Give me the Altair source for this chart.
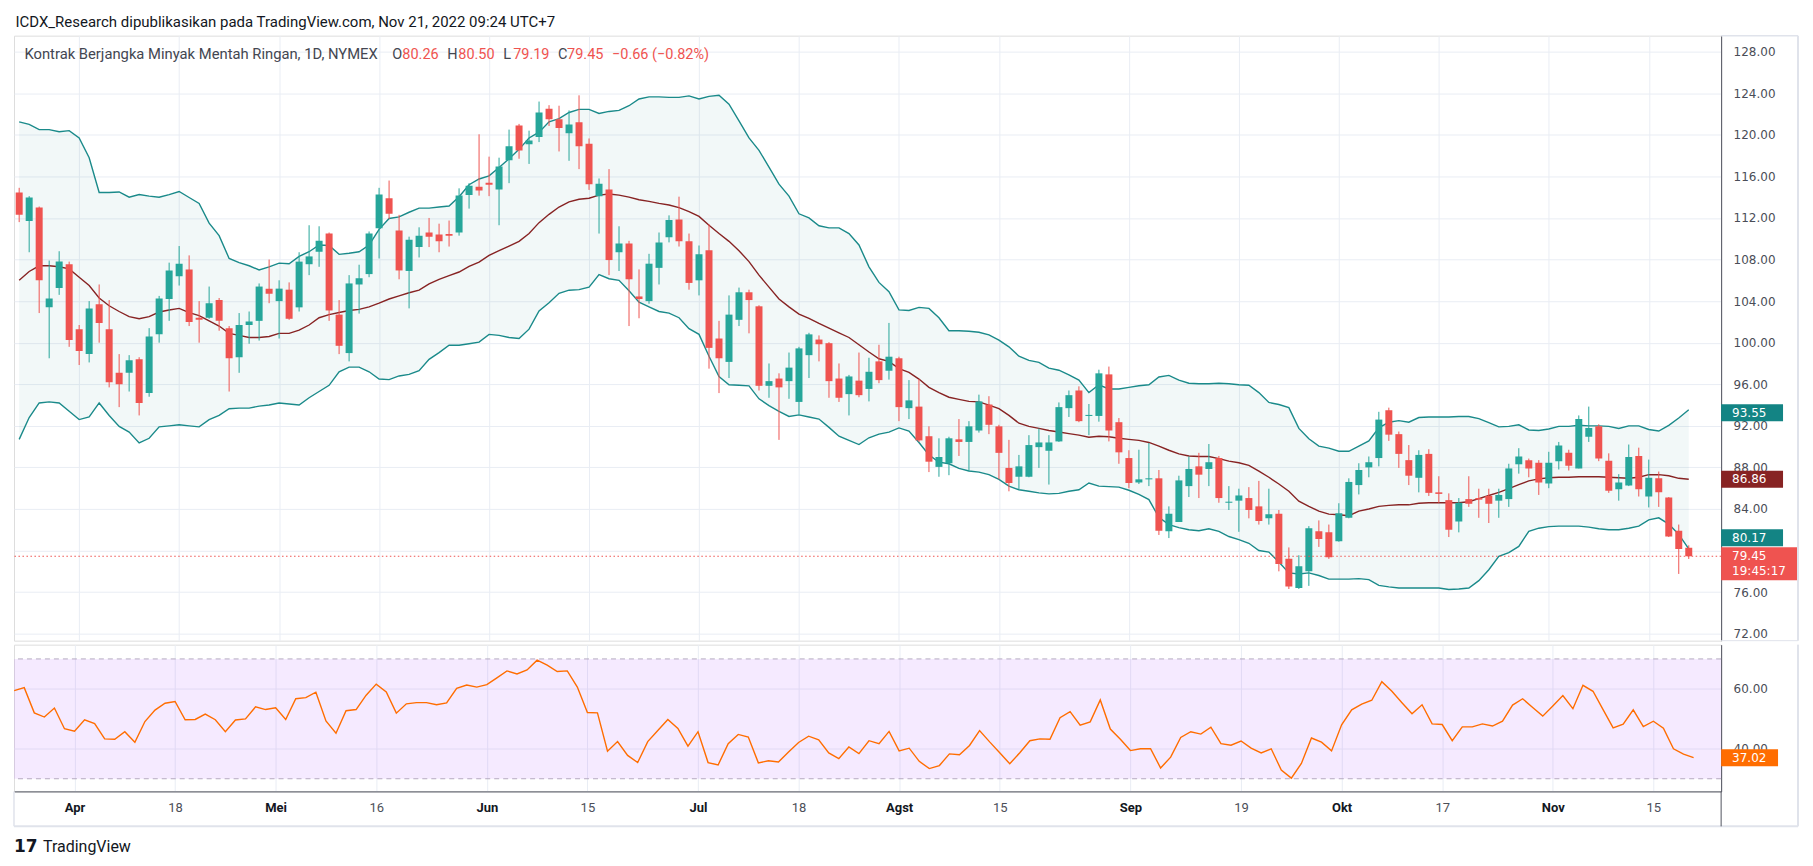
import altair as alt
import pandas as pd

# ---------------- data ----------------
open_ = [114.45, 111.7, 113.0, 103.4, 105.25, 107.55, 101.3, 98.9, 103.7, 101.3,
         97.1, 97.1, 98.4, 95.15, 100.8, 104.2, 106.4, 107.05, 102.4, 102.4,
         104.1, 101.4, 98.6, 101.7, 102.1, 105.2, 104.0, 105.1, 103.4, 107.55,
         108.75, 110.5, 102.7, 99.0, 105.6, 106.6, 111.0, 113.9, 110.8, 106.9,
         109.2, 110.6, 110.4, 110.45, 110.6, 114.2, 115.0, 115.4, 114.75, 117.55,
         120.9, 119.1, 119.8, 122.5, 121.5, 120.15, 121.2, 119.15, 114.1, 114.75,
         108.7, 109.55, 104.45, 104.0, 107.2, 110.15, 111.85, 109.75, 106.0, 108.9,
         100.4, 98.15, 102.2, 104.85, 103.5, 95.85, 96.55, 96.3, 94.3, 98.8,
         100.3, 99.95, 96.55, 95.05, 96.35, 95.55, 98.2, 97.3, 98.5, 93.7,
         93.85, 91.0, 88.05, 88.4, 90.7, 90.45, 91.55, 94.05, 91.95, 87.95,
         87.1, 87.1, 89.95, 89.6, 90.5, 93.7, 95.4, 92.95, 92.95, 96.95,
         92.35, 88.9, 86.55, 86.85, 86.95, 81.85, 82.75, 86.2, 88.1, 87.85,
         88.9, 84.6, 84.8, 85.05, 84.25, 83.1, 83.55, 79.2, 76.4, 78.0,
         81.85, 81.75, 80.9, 83.15, 86.3, 88.0, 88.9, 93.5, 91.2, 88.7,
         87.0, 89.3, 85.6, 84.85, 82.8, 84.95, 85.05, 85.25, 84.8, 84.95,
         88.3, 88.7, 88.45, 86.45, 88.6, 89.4, 87.9, 90.95, 91.95, 88.65,
         85.9, 86.25, 89.1, 85.2, 86.95, 85.1, 81.9, 80.26]
high = [114.9, 114.1, 113.1, 107.9, 108.8, 107.8, 101.7, 104.0, 105.6, 104.1,
        98.9, 98.8, 98.6, 101.4, 104.5, 107.7, 109.3, 108.4, 104.0, 105.4,
        104.3, 101.6, 102.85, 103.0, 105.7, 108.0, 106.0, 105.8, 108.7, 111.3,
        111.2, 110.6, 104.1, 106.5, 107.5, 110.7, 114.9, 115.6, 112.3, 110.2,
        111.1, 112.0, 111.45, 111.75, 114.85, 115.35, 120.05, 117.9, 117.8, 120.5,
        121.05, 120.4, 123.2, 122.85, 122.8, 122.35, 123.8, 119.65, 115.8, 116.7,
        111.2, 109.8, 107.05, 108.55, 110.6, 112.25, 114.05, 110.5, 109.35, 111.4,
        102.1, 104.55, 105.3, 105.1, 103.6, 98.0, 97.05, 99.05, 99.6, 100.95,
        100.7, 100.05, 98.0, 96.9, 99.05, 98.55, 99.8, 101.9, 98.65, 96.4,
        96.5, 91.95, 90.8, 90.95, 92.65, 92.45, 95.0, 94.85, 92.1, 90.65,
        89.2, 91.1, 91.75, 91.1, 94.25, 95.4, 95.8, 94.1, 97.4, 97.7,
        92.75, 89.65, 89.7, 90.35, 87.75, 84.25, 87.2, 89.05, 89.4, 90.25,
        89.1, 86.2, 85.95, 86.1, 86.7, 85.95, 83.9, 80.3, 79.55, 82.35,
        82.9, 82.5, 84.55, 86.95, 88.4, 89.05, 93.35, 93.75, 91.45, 90.15,
        89.65, 89.75, 87.15, 85.5, 85.05, 87.15, 85.95, 85.95, 85.95, 88.35,
        89.85, 88.85, 88.7, 89.5, 90.45, 89.7, 93.0, 93.85, 92.15, 89.35,
        87.35, 90.2, 89.9, 88.75, 87.6, 85.15, 82.5, 80.50]
low = [111.6, 108.7, 102.85, 98.5, 104.6, 99.6, 97.85, 98.1, 100.0, 95.7,
       93.8, 95.3, 93.0, 94.8, 100.0, 102.1, 105.5, 101.6, 100.0, 102.3,
       101.15, 95.3, 97.1, 99.9, 100.2, 103.8, 100.4, 102.2, 103.0, 106.5,
       107.3, 102.1, 98.9, 98.2, 102.8, 106.3, 108.1, 111.9, 106.1, 103.3,
       108.2, 109.2, 108.7, 109.25, 110.3, 112.9, 114.15, 114.1, 111.3, 115.35,
       117.7, 117.2, 119.3, 120.85, 118.4, 117.5, 116.7, 114.7, 110.5, 106.5,
       106.9, 101.6, 102.35, 103.75, 105.6, 109.65, 109.25, 105.1, 104.55, 97.5,
       95.15, 96.6, 101.6, 100.9, 95.4, 94.7, 90.65, 94.6, 93.1, 96.6,
       98.2, 94.7, 94.3, 93.0, 94.75, 94.35, 96.1, 96.45, 92.45, 92.65,
       90.45, 87.55, 87.1, 87.25, 89.1, 87.65, 91.35, 91.2, 86.85, 85.7,
       85.9, 87.05, 87.95, 86.35, 90.45, 92.85, 92.35, 91.1, 92.4, 90.5,
       88.35, 86.0, 86.4, 86.2, 81.5, 81.2, 82.75, 85.15, 85.05, 86.2,
       84.6, 83.9, 81.8, 83.1, 82.5, 82.5, 78.0, 76.3, 76.3, 76.6,
       80.35, 79.2, 80.85, 83.1, 85.4, 87.05, 88.1, 90.55, 87.95, 86.3,
       85.6, 85.25, 84.6, 81.3, 81.75, 84.2, 83.15, 82.65, 83.15, 84.2,
       87.4, 87.05, 85.35, 86.0, 87.8, 87.7, 87.9, 90.45, 88.6, 85.55,
       84.8, 86.2, 85.2, 84.15, 84.2, 81.3, 77.75, 79.19]
close = [112.3, 113.97, 106.0, 104.26, 107.8, 100.25, 99.2, 103.3, 101.9, 96.2,
         96.0, 98.3, 94.2, 100.6, 104.25, 106.95, 107.6, 102.0, 102.2, 103.8,
         102.1, 98.5, 101.7, 102.05, 105.4, 104.7, 105.2, 102.3, 107.8, 108.3,
         109.8, 103.1, 99.7, 105.7, 106.2, 110.5, 114.25, 112.4, 106.95, 109.9,
         110.3, 110.2, 109.75, 110.3, 114.15, 115.1, 114.65, 115.2, 116.95, 118.9,
         118.5, 119.45, 122.15, 121.5, 120.65, 121.0, 118.9, 115.25, 115.3, 107.95,
         109.55, 106.1, 104.2, 107.6, 109.65, 111.8, 109.75, 105.75, 108.5, 99.5,
         98.5, 102.7, 104.85, 104.1, 95.85, 96.3, 95.7, 97.6, 99.45, 100.8,
         99.85, 96.3, 94.7, 96.75, 94.95, 97.2, 96.4, 98.65, 93.8, 94.45,
         90.6, 88.55, 89.0, 90.8, 90.45, 91.95, 94.35, 92.1, 89.4, 86.5,
         88.1, 90.15, 90.4, 90.4, 93.8, 94.95, 92.45, 93.05, 97.05, 91.55,
         89.45, 86.5, 86.85, 86.95, 81.9, 83.55, 86.75, 87.85, 87.3, 88.5,
         85.05, 84.7, 85.3, 83.9, 82.85, 83.5, 78.7, 76.55, 78.5, 82.15,
         81.1, 79.35, 83.6, 86.6, 87.75, 88.5, 92.6, 91.15, 89.3, 87.2,
         89.2, 85.55, 85.45, 82.0, 84.6, 84.5, 84.9, 84.5, 85.35, 87.9,
         89.05, 87.9, 86.55, 88.45, 90.1, 88.15, 92.65, 91.8, 88.85, 85.75,
         86.55, 89.0, 85.9, 87.0, 85.6, 81.35, 80.15, 79.45]

bb_upper = [121.25, 121.0, 120.5, 120.5, 120.3, 120.4, 119.7, 117.8, 114.45, 114.45,
            114.5, 114.0, 114.25, 114.1, 114.0, 114.25, 114.55, 113.97, 113.4, 111.5,
            110.3, 108.1, 107.7, 107.4, 107.0, 107.3, 107.65, 107.6, 108.3, 108.75,
            109.4, 109.35, 108.5, 108.6, 108.75, 109.4, 110.9, 111.95, 112.1, 112.55,
            112.95, 112.95, 113.05, 113.15, 114.05, 115.2, 115.75, 116.05, 116.85, 117.7,
            118.6, 119.7, 120.25, 121.25, 121.55, 122.15, 122.45, 122.45, 122.05, 122.25,
            122.35, 122.8, 123.45, 123.65, 123.65, 123.6, 123.6, 123.75, 123.45, 123.7,
            123.8, 122.95, 121.35, 119.7, 118.5, 116.9, 115.25, 114.1, 112.4, 112.0,
            111.25, 111.05, 111.05, 110.5, 109.4, 107.3, 105.8, 104.9, 103.15, 103.1,
            103.4, 103.3, 102.4, 101.15, 101.15, 101.1, 101.0, 100.75, 100.25, 99.6,
            98.7, 98.3, 98.1, 97.55, 97.35, 96.9, 96.4, 95.2, 95.95, 95.55,
            95.55, 95.7, 95.85, 95.95, 96.7, 96.85, 96.4, 96.1, 96.05, 96.05,
            96.1, 96.05, 95.95, 95.9, 95.2, 94.25, 94.05, 93.75, 91.75, 90.75,
            90.05, 89.85, 89.55, 89.55, 90.05, 90.55, 91.8, 92.35, 92.5, 92.35,
            92.8, 92.85, 92.85, 92.85, 92.9, 92.9, 92.7, 92.3, 91.9, 91.95,
            92.1, 91.6, 91.55, 91.7, 91.95, 91.95, 92.05, 92.0, 92.0, 91.95,
            91.75, 92.0, 92.0, 91.65, 91.5, 92.05, 92.75, 93.55]
bb_basis = [106.0, 106.85, 107.4, 107.4, 107.3, 107.1, 106.3, 105.5, 104.3, 103.55,
            103.0, 102.5, 102.3, 102.5, 102.95, 103.15, 103.3, 102.9, 102.6, 102.1,
            101.6, 100.9, 100.7, 100.5, 100.5, 100.6, 100.9, 100.9, 101.2, 101.7,
            102.4, 102.7, 102.9, 103.1, 103.2, 103.45, 103.8, 104.2, 104.5, 104.8,
            105.05, 105.65, 106.1, 106.45, 106.8, 107.35, 107.75, 108.4, 108.85, 109.3,
            109.75, 110.5, 111.55, 112.35, 113.05, 113.55, 113.8, 113.9, 114.2, 114.3,
            114.2, 114.0, 113.75, 113.6, 113.4, 113.25, 113.0, 112.6, 112.15, 111.3,
            110.5, 109.75, 108.85, 107.8, 106.5, 105.35, 104.2, 103.45, 102.75, 102.35,
            101.85, 101.4, 100.95, 100.5, 99.8, 99.1, 98.45, 98.2, 97.5, 97.15,
            96.5, 95.7, 95.2, 94.75, 94.55, 94.35, 94.3, 94.0, 93.65, 93.0,
            92.25, 91.95, 91.75, 91.55, 91.4, 91.25, 91.1, 90.9, 91.0, 90.95,
            90.8, 90.7, 90.6, 90.4, 90.05, 89.65, 89.3, 89.1, 89.05, 89.05,
            88.85, 88.6, 88.45, 88.2, 87.65, 87.05, 86.4, 85.7, 84.75, 84.25,
            83.8, 83.5, 83.45, 83.35, 83.8, 84.0, 84.25, 84.35, 84.4, 84.4,
            84.55, 84.6, 84.6, 84.6, 84.6, 84.7, 85.0, 85.3, 85.6, 85.95,
            86.35, 86.7, 86.9, 87.0, 87.05, 87.05, 87.1, 87.1, 87.1, 87.05,
            87.0, 86.95, 87.05, 87.3, 87.3, 87.2, 86.95, 86.86]
bb_lower = [90.7, 92.8, 94.2, 94.3, 94.2, 93.4, 92.6, 92.85, 94.2, 93.0,
            91.95, 91.4, 90.35, 90.8, 91.9, 92.0, 92.1, 92.0, 91.9, 92.6,
            93.0, 93.65, 93.7, 93.7, 93.9, 94.0, 94.2, 94.1, 94.0, 94.7,
            95.3, 95.9, 97.2, 97.65, 97.65, 97.2, 96.5, 96.45, 96.8, 96.95,
            97.3, 98.4, 99.05, 99.75, 99.75, 99.9, 100.05, 100.8, 100.7, 100.5,
            100.4, 101.3, 103.05, 103.85, 104.75, 105.05, 105.1, 105.35, 106.55, 106.15,
            106.0, 105.0, 103.9, 103.45, 103.0, 102.85, 102.4, 101.35, 100.8, 98.7,
            96.75, 95.95, 95.9, 95.85, 94.6, 93.95, 93.4, 92.9, 93.05, 92.85,
            92.65, 91.85, 91.0, 90.6, 90.2, 90.85, 91.2, 91.4, 91.8, 91.5,
            90.4, 89.2, 88.5, 88.35, 87.9, 87.65, 87.55, 87.3, 86.85, 86.2,
            85.85, 85.7, 85.55, 85.45, 85.5, 85.7, 85.85, 86.5, 86.2, 86.15,
            86.1, 85.8, 85.4, 84.9, 83.2, 82.5, 82.2, 82.0, 81.9, 82.1,
            81.85, 81.35, 81.05, 80.7, 80.0, 79.85, 78.9, 77.85, 77.75, 77.85,
            77.6, 77.25, 77.25, 77.25, 77.3, 77.2, 76.65, 76.5, 76.4, 76.4,
            76.4, 76.4, 76.4, 76.25, 76.3, 76.4, 77.1, 78.15, 79.45, 79.8,
            80.4, 81.85, 82.15, 82.3, 82.35, 82.35, 82.35, 82.25, 82.1, 82.0,
            82.0, 82.15, 82.35, 82.95, 83.15, 82.55, 81.55, 80.17]
rsi = [59.4, 60.4, 52.0, 50.6, 53.6, 46.7, 45.9, 49.7, 48.4, 43.3,
       43.2, 45.7, 42.2, 49.1, 52.9, 55.2, 55.8, 49.7, 49.8, 51.6,
       49.7, 45.7, 49.6, 50.0, 54.0, 53.1, 53.7, 49.8, 56.7, 57.1,
       58.9, 49.3, 45.2, 52.7, 53.1, 57.9, 61.6, 59.0, 51.9, 55.0,
       55.4, 55.4, 54.7, 55.3, 60.2, 61.3, 60.6, 61.4, 63.7, 66.0,
       65.0, 66.3, 69.6, 67.9, 65.8, 66.0, 60.6, 52.1, 52.0, 39.2,
       42.4, 37.8, 35.4, 42.4, 46.1, 49.8, 46.8, 40.9, 45.7, 35.4,
       34.6, 41.7, 44.8, 43.9, 35.3, 36.0, 35.6, 38.9, 42.1, 44.2,
       43.0, 38.6, 36.7, 40.6, 38.4, 42.7, 41.7, 45.8, 39.3, 40.2,
       35.8, 33.4, 34.4, 38.3, 38.0, 41.1, 46.1, 42.3, 38.7, 35.0,
       38.7, 42.7, 43.3, 43.2, 50.4, 52.4, 47.9, 49.0, 56.3, 46.6,
       43.2, 39.4, 40.0, 40.0, 33.6, 37.2, 43.8, 45.7, 44.9, 47.2,
       41.7, 41.2, 42.6, 40.2, 38.6, 40.0, 32.9, 30.2, 35.1, 43.6,
       42.2, 39.3, 48.0, 53.0, 54.9, 56.2, 62.4, 59.2, 55.4, 51.7,
       54.7, 48.3, 48.1, 42.7, 47.3, 47.3, 48.3, 47.6, 49.2, 54.6,
       56.7, 53.8, 50.9, 54.3, 57.8, 53.4, 61.2, 59.2, 53.1, 47.0,
       48.2, 53.0, 47.4, 49.2, 46.9, 40.0, 38.2, 37.02]

tick_idx = [6, 16, 26, 36, 47, 57, 68, 78, 88, 98, 111, 122, 132, 142, 153, 163]
tick_lbl = ["Apr", "18", "Mei", "16", "Jun", "15", "Jul", "18", "Agst", "15",
            "Sep", "19", "Okt", "17", "Nov", "15"]
month_idx = [6, 26, 47, 68, 88, 111, 132, 153]
price_ticks = [72, 76, 80, 84, 88, 92, 96, 100, 104, 108, 112, 116, 120, 124, 128]
hidden_price_label = 80   # fully covered by the value tags in the reference
rsi_ticks = [40, 60]
rsi_levels = [30, 70]

header = "ICDX_Research dipublikasikan pada TradingView.com, Nov 21, 2022 09:24 UTC+7"
symbol_name = "Kontrak Berjangka Minyak Mentah Ringan, 1D, NYMEX"
ohlc_letters = ["O", "H", "L", "C"]
ohlc_values = ["80.26", "80.50", "79.19", "79.45"]
change_txt = "\u22120.66 (\u22120.82%)"
countdown = "19:45:17"

# ---------------- styling ----------------
UP, DOWN = "#26a69a", "#ef5350"
BAND, BASIS = "#1a8a8a", "#872323"
GRID = "#e9edf4"
FRAME = "#e0e3eb"
AXIS_DARK = "#50535e"
TXT = "#131722"
GREY = "#434651"
ORANGE = "#ff6d00"
FONT = "Roboto"
NUMFONT = "DejaVu Sans"

W, HP, HR = 1710, 606, 147
RIGHT_EDGE = 1787

n = len(close)
df = pd.DataFrame({
    "i": list(range(n)), "open": open_, "high": high, "low": low, "close": close,
    "upper": bb_upper, "basis": bb_basis, "lower": bb_lower, "rsi": rsi,
})
df["dir"] = ["up" if c >= o else "down" for o, c in zip(open_, close)]

xs = alt.Scale(domain=[-0.02, 169.74], nice=False, zero=False)
ys = alt.Scale(domain=[71.33, 129.54], nice=False, zero=False)
rs = alt.Scale(domain=[25.77, 74.77], nice=False, zero=False)

x_grid_axis = alt.Axis(values=tick_idx, labels=False, ticks=False, tickSize=0, domain=False,
                       grid=True, gridColor=GRID, title=None, labelPadding=0,
                       minExtent=0, maxExtent=0, offset=0)
lbl_expr = "[" + ",".join("'%s'" % t for t in tick_lbl) + "][indexof([" + \
    ",".join(str(t) for t in tick_idx) + "], datum.value)]"
month_test = "indexof([" + ",".join(str(m) for m in month_idx) + "], datum.value) >= 0"
x_rsi_axis = alt.Axis(values=tick_idx, labelExpr=lbl_expr, grid=True, gridColor=GRID,
                      ticks=False, tickSize=0, domain=True, domainColor=AXIS_DARK,
                      labelPadding=10, labelFont=FONT, labelFontSize=13,
                      labelColor={"condition": {"test": month_test, "value": TXT}, "value": "#4c4f59"},
                      labelFontWeight={"condition": {"test": month_test, "value": "bold"}, "value": "normal"},
                      labelFlush=False, title=None)
price_axis = alt.Axis(orient="right", values=price_ticks,
                      labelExpr="datum.value == %d ? '' : format(datum.value, '.2f')" % hidden_price_label,
                      grid=True, gridColor=GRID, ticks=False, tickSize=0, domain=True,
                      domainColor=AXIS_DARK, labelPadding=12, labelFont=NUMFONT,
                      labelFontSize=12, labelColor="#4a4d57", title=None, labelFlush=False)
rsi_axis = alt.Axis(orient="right", values=rsi_ticks, format=".2f", grid=True,
                    gridColor=GRID, ticks=False, tickSize=0, domain=True,
                    domainColor=AXIS_DARK, labelPadding=12, labelFont=NUMFONT,
                    labelFontSize=12, labelColor="#4a4d57", title=None, labelFlush=False)


def XP():
    return alt.X("i:Q", scale=xs, axis=x_grid_axis)


def XR():
    return alt.X("i:Q", scale=xs, axis=x_rsi_axis)


def YP(f):
    return alt.Y(f + ":Q", scale=ys, axis=price_axis)


def YR(f):
    return alt.Y(f + ":Q", scale=rs, axis=rsi_axis)


cscale = alt.Scale(domain=["up", "down"], range=[UP, DOWN])
base = alt.Chart(df)

band = base.mark_area(color=BAND, opacity=0.06, clip=True).encode(XP(), YP("lower"), y2="upper:Q")
up_l = base.mark_line(color=BAND, strokeWidth=1.4, clip=True).encode(XP(), YP("upper"))
lo_l = base.mark_line(color=BAND, strokeWidth=1.4, clip=True).encode(XP(), YP("lower"))
mid_l = base.mark_line(color=BASIS, strokeWidth=1.4, clip=True).encode(XP(), YP("basis"))
wicks = base.mark_rule(strokeWidth=1, clip=True).encode(
    XP(), YP("low"), y2="high:Q", color=alt.Color("dir:N", scale=cscale, legend=None))
bodies = base.mark_bar(size=7, clip=True).encode(
    XP(), YP("open"), y2="close:Q", color=alt.Color("dir:N", scale=cscale, legend=None))

last_df = pd.DataFrame({"v": [close[-1]]})
price_line = alt.Chart(last_df).mark_rule(color=DOWN, strokeDash=[1.5, 2.5], strokeWidth=1).encode(YP("v"))


def tag(value, text, color, dy=0, h=17, w=62, layer_y=YP):
    d = pd.DataFrame({"v": [value], "t": [text]})
    r = alt.Chart(d).mark_rect(color=color, yOffset=dy - h / 2, y2Offset=dy + h / 2).encode(
        x=alt.value(W), x2=alt.value(W + w), y=layer_y("v"), y2="v:Q")
    t = alt.Chart(d).mark_text(align="left", baseline="middle", color="white", dy=dy,
                               font=NUMFONT, fontSize=12).encode(
        x=alt.value(W + 11), y=layer_y("v"), text="t:N")
    return [r, t]


tags = []
tags += tag(bb_upper[-1], "%.2f" % bb_upper[-1], "#138484", dy=3)
tags += tag(bb_basis[-1], "%.2f" % bb_basis[-1], "#872323", dy=0)
tags += tag(bb_lower[-1], "%.2f" % bb_lower[-1], "#138484", dy=-11)
# last price tag (two lines)
lp = pd.DataFrame({"v": [close[-1]], "t": ["%.2f" % close[-1]], "c": [countdown]})
tags.append(alt.Chart(lp).mark_rect(color=DOWN, yOffset=-9, y2Offset=24).encode(
    x=alt.value(W), x2=alt.value(W + 76), y=YP("v"), y2="v:Q"))
tags.append(alt.Chart(lp).mark_text(align="left", baseline="middle", color="white",
                                    font=NUMFONT, fontSize=12).encode(
    x=alt.value(W + 11), y=YP("v"), text="t:N"))
tags.append(alt.Chart(lp).mark_text(align="left", baseline="middle", color="white",
                                    font=NUMFONT, fontSize=12, dy=15).encode(
    x=alt.value(W + 11), y=YP("v"), text="c:N"))

# texts: header and symbol legend
LFS = 14.5
txt_df = pd.DataFrame({"h": [header], "s": [symbol_name], "chg": [change_txt]})
texts = [
    alt.Chart(txt_df).mark_text(align="left", baseline="middle", font=FONT, fontSize=15,
                                color=TXT).encode(x=alt.value(1.5), y=alt.value(-14), text="h:N"),
    alt.Chart(txt_df).mark_text(align="left", baseline="middle", font=FONT, fontSize=14.8,
                                color=GREY).encode(x=alt.value(10.5), y=alt.value(19), text="s:N"),
]
letter_x = [379, 434, 490, 545]
value_x = [389, 445, 500, 554]
for k in range(4):
    d = pd.DataFrame({"l": [ohlc_letters[k]], "v": [ohlc_values[k]]})
    texts.append(alt.Chart(d).mark_text(align="left", baseline="middle", font=FONT, fontSize=LFS,
                                        color=GREY).encode(x=alt.value(letter_x[k]), y=alt.value(19), text="l:N"))
    texts.append(alt.Chart(d).mark_text(align="left", baseline="middle", font=FONT, fontSize=LFS,
                                        color=DOWN).encode(x=alt.value(value_x[k]), y=alt.value(19), text="v:N"))
texts.append(alt.Chart(txt_df).mark_text(align="left", baseline="middle", font=FONT, fontSize=LFS,
                                         color=DOWN).encode(x=alt.value(599), y=alt.value(19), text="chg:N"))

# frame extensions into the price-scale column
frame_p = [
    alt.Chart(txt_df).mark_rule(color=FRAME, strokeWidth=1.5).encode(
        x=alt.value(W), x2=alt.value(RIGHT_EDGE), y=alt.value(0)),
    alt.Chart(txt_df).mark_rule(color=FRAME, strokeWidth=1).encode(
        x=alt.value(W), x2=alt.value(RIGHT_EDGE), y=alt.value(HP)),
    alt.Chart(txt_df).mark_rule(color=FRAME, strokeWidth=2).encode(
        x=alt.value(RIGHT_EDGE), y=alt.value(0), y2=alt.value(HP)),
]

price = alt.layer(band, up_l, lo_l, mid_l, wicks, bodies, price_line, *tags, *texts, *frame_p).properties(
    width=W, height=HP)

# ---------------- RSI pane ----------------
lv = pd.DataFrame({"lo": [rsi_levels[0]], "hi": [rsi_levels[1]]})
rsi_band = alt.Chart(lv).mark_rect(color="#9b30ff", opacity=0.1).encode(
    x=alt.value(0), x2=alt.value(W), y=YR("lo"), y2="hi:Q")
lv2 = pd.DataFrame({"v": rsi_levels})
rsi_dash = alt.Chart(lv2).mark_rule(color="#b4aac0", strokeDash=[5, 4], strokeWidth=1).encode(YR("v"))
rsi_line = base.mark_line(color=ORANGE, strokeWidth=1.4, clip=True).encode(XR(), YR("rsi"))
rsi_tags = tag(rsi[-1], "%.2f" % rsi[-1], ORANGE, dy=0, layer_y=YR, w=57)

logo_df = pd.DataFrame({"a": ["17"], "b": ["TradingView"]})
bottom = [
    alt.Chart(logo_df).mark_text(align="left", baseline="middle", font="DejaVu Sans", fontSize=17,
                                 fontWeight=900, color=TXT).encode(x=alt.value(0), y=alt.value(203), text="a:N"),
    alt.Chart(logo_df).mark_text(align="left", baseline="middle", font=FONT, fontSize=16,
                                 fontWeight="normal", color=TXT).encode(x=alt.value(29), y=alt.value(203), text="b:N"),
    alt.Chart(logo_df).mark_rule(color=FRAME, strokeWidth=2).encode(
        x=alt.value(0), x2=alt.value(RIGHT_EDGE), y=alt.value(182)),
    alt.Chart(logo_df).mark_rule(color=FRAME, strokeWidth=1.5).encode(
        x=alt.value(0), y=alt.value(HR), y2=alt.value(182)),
    alt.Chart(logo_df).mark_rule(color=FRAME, strokeWidth=2).encode(
        x=alt.value(RIGHT_EDGE), y=alt.value(0), y2=alt.value(182)),
    alt.Chart(logo_df).mark_rule(color=AXIS_DARK, strokeWidth=1).encode(
        x=alt.value(W), y=alt.value(HR), y2=alt.value(182)),
]

rsi_pane = alt.layer(rsi_band, rsi_dash, rsi_line, *rsi_tags, *bottom).properties(width=W, height=HR)

chart = alt.vconcat(price, rsi_pane, spacing=0).properties(
    padding={"left": 4, "top": 5, "right": 5, "bottom": 5}
).configure_view(stroke=FRAME).configure(background="white")

chart.save("out.html", embed_options={"renderer": "svg", "actions": False})
